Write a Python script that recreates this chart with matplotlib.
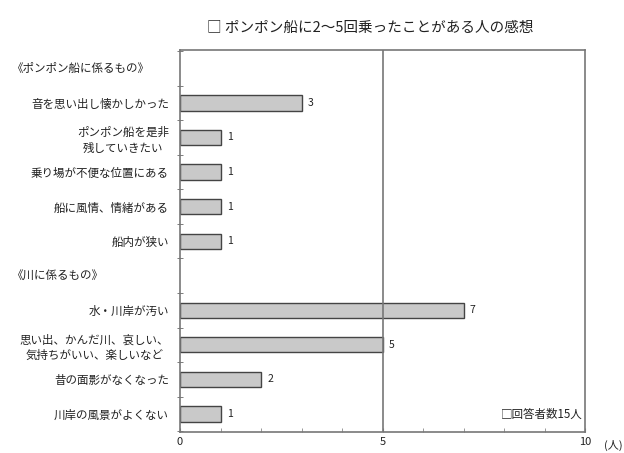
import matplotlib
matplotlib.use("Agg")
from matplotlib import pyplot as plt
from matplotlib import transforms

plt.rcParams['font.family'] = ['Noto Sans CJK JP', 'DejaVu Sans']

# slots from top to bottom; headers have no bar
headers = ['《ポンポン船に係るもの》', '《川に係るもの》']
header_pos = [0, 6]

labels = ['音を思い出し懐かしかった',
          'ポンポン船を是非\n残していきたい',
          '乗り場が不便な位置にある',
          '船に風情、情緒がある',
          '船内が狭い',
          '水・川岸が汚い',
          '思い出、かんだ川、哀しい、\n気持ちがいい、楽しいなど',
          '昔の面影がなくなった',
          '川岸の風景がよくない']
values = [3, 1, 1, 1, 1, 7, 5, 2, 1]
bar_pos = [1, 2, 3, 4, 5, 7, 8, 9, 10]

title = '□ ポンポン船に2～5回乗ったことがある人の感想'
note = '□回答者数15人'
xticks = [0, 5, 10]

txt = '#222222'
fs = 8.3

fig = plt.figure(figsize=(6.24, 4.53), dpi=100)
ax = fig.add_axes([0.2885, 0.0464, 0.649, 0.8432])

ax.barh(bar_pos, values, height=0.44, color='#c9c9c9', edgecolor='#444444', linewidth=1.0)
for y, v in zip(bar_pos, values):
    ax.text(v + 0.15, y, str(v), va='center', ha='left', fontsize=7.5, color=txt)

ax.set_xlim(0, 10)
ax.set_ylim(10.52, -0.53)
ax.set_xticks(xticks)
ax.set_xticklabels([str(t) for t in xticks], fontsize=8, color=txt)
ax.set_xticks(range(11), minor=True)
ax.tick_params(axis='x', which='both', direction='in', length=3, color='#888888')
ax.axvline(5, color='#777777', linewidth=1.2)

ax.set_yticks(bar_pos)
ax.set_yticklabels(labels, fontsize=fs, color=txt, linespacing=1.25, multialignment='center')
ax.tick_params(axis='y', which='major', length=0, pad=8)
ax.set_yticks([i + 0.5 for i in range(-1, 11)], minor=True)
ax.tick_params(axis='y', which='minor', direction='inout', length=4, color='#666666')

for s in ax.spines.values():
    s.set_color('#777777')
    s.set_linewidth(1.2)

trans = transforms.blended_transform_factory(fig.transFigure, ax.transData)
for h, p in zip(headers, header_pos):
    ax.text(12 / 624, p, h, transform=trans, ha='left', va='center', fontsize=fs, color=txt)

ax.text(0.995, 0.045, note, transform=ax.transAxes, ha='right', va='center', fontsize=fs, color=txt)
ax.text(1.07, -0.035, '(人)', transform=ax.transAxes, ha='center', va='center', fontsize=8, color=txt)

fig.text(0.593, 1 - 28 / 453, title, ha='center', va='center', fontsize=10.5, color=txt)

fig.savefig('out.png', dpi=100, facecolor='white')
